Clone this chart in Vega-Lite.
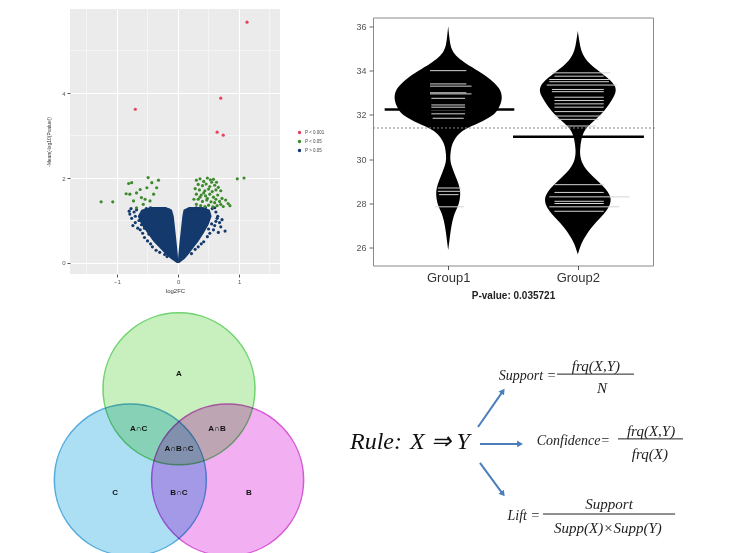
{
  "$schema": "https://vega.github.io/schema/vega-lite/v6.json",
  "background": "white",
  "padding": {"left": 46, "top": 8, "right": 0, "bottom": 0},
  "config": {"font": "Liberation Sans", "view": {"stroke": null}},
  "columns": 2,
  "bounds": "flush",
  "center": true,
  "spacing": {"row": 27, "column": 93},
  "datasets": {
    "minorx": [{"x": -1.5}, {"x": -0.5}, {"x": 0.5}, {"x": 1.5}],
    "minory": [{"y": 1}, {"y": 3}, {"y": 5}],
    "core": [
      {"arm": "L", "y": 0.0, "xo": -0.02, "xi": 0.0},
      {"arm": "L", "y": 0.1, "xo": -0.12, "xi": 0.0},
      {"arm": "L", "y": 0.2, "xo": -0.2, "xi": -0.005},
      {"arm": "L", "y": 0.35, "xo": -0.3, "xi": -0.015},
      {"arm": "L", "y": 0.5, "xo": -0.4, "xi": -0.025},
      {"arm": "L", "y": 0.7, "xo": -0.5, "xi": -0.04},
      {"arm": "L", "y": 0.9, "xo": -0.6, "xi": -0.055},
      {"arm": "L", "y": 1.1, "xo": -0.66, "xi": -0.07},
      {"arm": "L", "y": 1.25, "xo": -0.6, "xi": -0.1},
      {"arm": "L", "y": 1.32, "xo": -0.45, "xi": -0.2},
      {"arm": "R", "y": 0.0, "xo": 0.02, "xi": 0.0},
      {"arm": "R", "y": 0.1, "xo": 0.11, "xi": 0.0},
      {"arm": "R", "y": 0.2, "xo": 0.17, "xi": 0.005},
      {"arm": "R", "y": 0.35, "xo": 0.25, "xi": 0.015},
      {"arm": "R", "y": 0.5, "xo": 0.33, "xi": 0.025},
      {"arm": "R", "y": 0.7, "xo": 0.42, "xi": 0.04},
      {"arm": "R", "y": 0.9, "xo": 0.5, "xi": 0.055},
      {"arm": "R", "y": 1.1, "xo": 0.55, "xi": 0.07},
      {"arm": "R", "y": 1.25, "xo": 0.52, "xi": 0.09},
      {"arm": "R", "y": 1.32, "xo": 0.4, "xi": 0.18}
    ],
    "volc": [
      {"x": -0.79, "y": 1.15, "s": "P > 0.05"}, {"x": -0.76, "y": 1.05, "s": "P > 0.05"}, {"x": -0.72, "y": 1.2, "s": "P > 0.05"},
      {"x": -0.7, "y": 0.95, "s": "P > 0.05"}, {"x": -0.68, "y": 1.25, "s": "P > 0.05"}, {"x": -0.74, "y": 0.88, "s": "P > 0.05"},
      {"x": -0.62, "y": 0.78, "s": "P > 0.05"}, {"x": -0.58, "y": 0.7, "s": "P > 0.05"}, {"x": -0.66, "y": 0.82, "s": "P > 0.05"},
      {"x": -0.55, "y": 0.6, "s": "P > 0.05"}, {"x": -0.5, "y": 0.52, "s": "P > 0.05"}, {"x": -0.45, "y": 0.45, "s": "P > 0.05"},
      {"x": -0.42, "y": 0.38, "s": "P > 0.05"}, {"x": -0.36, "y": 0.3, "s": "P > 0.05"}, {"x": -0.3, "y": 0.25, "s": "P > 0.05"},
      {"x": -0.52, "y": 1.28, "s": "P > 0.05"}, {"x": -0.45, "y": 1.3, "s": "P > 0.05"}, {"x": -0.38, "y": 1.27, "s": "P > 0.05"},
      {"x": -0.3, "y": 1.25, "s": "P > 0.05"}, {"x": -0.25, "y": 1.28, "s": "P > 0.05"}, {"x": -0.2, "y": 1.2, "s": "P > 0.05"},
      {"x": -0.15, "y": 1.25, "s": "P > 0.05"}, {"x": -0.58, "y": 1.1, "s": "P > 0.05"}, {"x": -0.64, "y": 1.0, "s": "P > 0.05"},
      {"x": -0.7, "y": 1.1, "s": "P > 0.05"}, {"x": -0.6, "y": 0.9, "s": "P > 0.05"}, {"x": -0.55, "y": 0.82, "s": "P > 0.05"},
      {"x": -0.48, "y": 0.68, "s": "P > 0.05"}, {"x": -0.4, "y": 0.58, "s": "P > 0.05"}, {"x": -0.33, "y": 0.48, "s": "P > 0.05"},
      {"x": -0.22, "y": 0.2, "s": "P > 0.05"}, {"x": -0.18, "y": 0.15, "s": "P > 0.05"}, {"x": -0.8, "y": 1.22, "s": "P > 0.05"},
      {"x": -0.77, "y": 1.28, "s": "P > 0.05"},
      {"x": 0.72, "y": 1.02, "s": "P > 0.05"}, {"x": 0.68, "y": 0.95, "s": "P > 0.05"}, {"x": 0.65, "y": 1.1, "s": "P > 0.05"},
      {"x": 0.62, "y": 1.2, "s": "P > 0.05"}, {"x": 0.6, "y": 0.88, "s": "P > 0.05"}, {"x": 0.58, "y": 0.78, "s": "P > 0.05"},
      {"x": 0.56, "y": 1.28, "s": "P > 0.05"}, {"x": 0.52, "y": 0.7, "s": "P > 0.05"}, {"x": 0.48, "y": 0.62, "s": "P > 0.05"},
      {"x": 0.45, "y": 1.3, "s": "P > 0.05"}, {"x": 0.4, "y": 1.28, "s": "P > 0.05"}, {"x": 0.35, "y": 1.27, "s": "P > 0.05"},
      {"x": 0.3, "y": 1.3, "s": "P > 0.05"}, {"x": 0.25, "y": 1.24, "s": "P > 0.05"}, {"x": 0.2, "y": 1.28, "s": "P > 0.05"},
      {"x": 0.15, "y": 1.2, "s": "P > 0.05"}, {"x": 0.42, "y": 0.5, "s": "P > 0.05"}, {"x": 0.38, "y": 0.45, "s": "P > 0.05"},
      {"x": 0.33, "y": 0.38, "s": "P > 0.05"}, {"x": 0.28, "y": 0.32, "s": "P > 0.05"}, {"x": 0.22, "y": 0.22, "s": "P > 0.05"},
      {"x": 0.62, "y": 0.98, "s": "P > 0.05"}, {"x": 0.55, "y": 0.92, "s": "P > 0.05"}, {"x": 0.5, "y": 0.8, "s": "P > 0.05"},
      {"x": 0.66, "y": 0.72, "s": "P > 0.05"}, {"x": 0.7, "y": 0.85, "s": "P > 0.05"}, {"x": 0.64, "y": 1.05, "s": "P > 0.05"},
      {"x": 0.77, "y": 0.75, "s": "P > 0.05"}, {"x": 0.6, "y": 1.3, "s": "P > 0.05"},
      {"x": -0.81, "y": 1.87, "s": "P < 0.05"}, {"x": -0.76, "y": 1.89, "s": "P < 0.05"}, {"x": -0.85, "y": 1.63, "s": "P < 0.05"},
      {"x": -0.79, "y": 1.62, "s": "P < 0.05"}, {"x": -0.68, "y": 1.65, "s": "P < 0.05"}, {"x": -0.62, "y": 1.73, "s": "P < 0.05"},
      {"x": -0.6, "y": 1.54, "s": "P < 0.05"}, {"x": -0.54, "y": 1.5, "s": "P < 0.05"}, {"x": -0.49, "y": 2.01, "s": "P < 0.05"},
      {"x": -0.43, "y": 1.89, "s": "P < 0.05"}, {"x": -0.32, "y": 1.95, "s": "P < 0.05"}, {"x": -0.51, "y": 1.77, "s": "P < 0.05"},
      {"x": -0.73, "y": 1.46, "s": "P < 0.05"}, {"x": -0.57, "y": 1.38, "s": "P < 0.05"}, {"x": -0.68, "y": 1.3, "s": "P < 0.05"},
      {"x": -0.4, "y": 1.62, "s": "P < 0.05"}, {"x": -0.46, "y": 1.46, "s": "P < 0.05"}, {"x": -0.35, "y": 1.77, "s": "P < 0.05"},
      {"x": -1.26, "y": 1.44, "s": "P < 0.05"}, {"x": -1.07, "y": 1.44, "s": "P < 0.05"},
      {"x": 0.3, "y": 1.95, "s": "P < 0.05"}, {"x": 0.36, "y": 1.98, "s": "P < 0.05"}, {"x": 0.42, "y": 1.92, "s": "P < 0.05"},
      {"x": 0.48, "y": 2.0, "s": "P < 0.05"}, {"x": 0.53, "y": 1.96, "s": "P < 0.05"}, {"x": 0.58, "y": 1.97, "s": "P < 0.05"},
      {"x": 0.63, "y": 1.9, "s": "P < 0.05"}, {"x": 0.33, "y": 1.85, "s": "P < 0.05"}, {"x": 0.4, "y": 1.82, "s": "P < 0.05"},
      {"x": 0.46, "y": 1.86, "s": "P < 0.05"}, {"x": 0.52, "y": 1.8, "s": "P < 0.05"}, {"x": 0.6, "y": 1.83, "s": "P < 0.05"},
      {"x": 0.66, "y": 1.78, "s": "P < 0.05"}, {"x": 0.28, "y": 1.75, "s": "P < 0.05"}, {"x": 0.35, "y": 1.72, "s": "P < 0.05"},
      {"x": 0.44, "y": 1.7, "s": "P < 0.05"}, {"x": 0.5, "y": 1.74, "s": "P < 0.05"}, {"x": 0.56, "y": 1.68, "s": "P < 0.05"},
      {"x": 0.62, "y": 1.72, "s": "P < 0.05"}, {"x": 0.7, "y": 1.7, "s": "P < 0.05"}, {"x": 0.3, "y": 1.62, "s": "P < 0.05"},
      {"x": 0.38, "y": 1.6, "s": "P < 0.05"}, {"x": 0.45, "y": 1.58, "s": "P < 0.05"}, {"x": 0.52, "y": 1.62, "s": "P < 0.05"},
      {"x": 0.58, "y": 1.55, "s": "P < 0.05"}, {"x": 0.65, "y": 1.6, "s": "P < 0.05"}, {"x": 0.72, "y": 1.52, "s": "P < 0.05"},
      {"x": 0.26, "y": 1.5, "s": "P < 0.05"}, {"x": 0.33, "y": 1.5, "s": "P < 0.05"}, {"x": 0.4, "y": 1.45, "s": "P < 0.05"},
      {"x": 0.47, "y": 1.48, "s": "P < 0.05"}, {"x": 0.54, "y": 1.44, "s": "P < 0.05"}, {"x": 0.6, "y": 1.42, "s": "P < 0.05"},
      {"x": 0.68, "y": 1.45, "s": "P < 0.05"}, {"x": 0.78, "y": 1.48, "s": "P < 0.05"}, {"x": 0.82, "y": 1.4, "s": "P < 0.05"},
      {"x": 0.3, "y": 1.38, "s": "P < 0.05"}, {"x": 0.37, "y": 1.35, "s": "P < 0.05"}, {"x": 0.44, "y": 1.33, "s": "P < 0.05"},
      {"x": 0.5, "y": 1.36, "s": "P < 0.05"}, {"x": 0.57, "y": 1.32, "s": "P < 0.05"}, {"x": 0.64, "y": 1.35, "s": "P < 0.05"},
      {"x": 0.74, "y": 1.33, "s": "P < 0.05"}, {"x": 0.42, "y": 1.65, "s": "P < 0.05"}, {"x": 0.55, "y": 1.9, "s": "P < 0.05"},
      {"x": 0.48, "y": 1.52, "s": "P < 0.05"}, {"x": 0.36, "y": 1.55, "s": "P < 0.05"}, {"x": 0.62, "y": 1.5, "s": "P < 0.05"},
      {"x": 0.7, "y": 1.38, "s": "P < 0.05"}, {"x": 0.85, "y": 1.35, "s": "P < 0.05"},
      {"x": 0.97, "y": 1.98, "s": "P < 0.05"}, {"x": 1.08, "y": 2.0, "s": "P < 0.05"},
      {"x": 1.13, "y": 5.67, "s": "P < 0.001"}, {"x": -0.7, "y": 3.62, "s": "P < 0.001"}, {"x": 0.7, "y": 3.88, "s": "P < 0.001"},
      {"x": 0.64, "y": 3.08, "s": "P < 0.001"}, {"x": 0.74, "y": 3.01, "s": "P < 0.001"}
    ],
    "bean": [
      {"g": "G1", "y": 36.0, "lo": 1.0, "hi": 1.0}, {"g": "G1", "y": 35.6, "lo": 0.993, "hi": 1.007},
      {"g": "G1", "y": 35.2, "lo": 0.985, "hi": 1.015}, {"g": "G1", "y": 34.9, "lo": 0.97, "hi": 1.03},
      {"g": "G1", "y": 34.6, "lo": 0.93, "hi": 1.07}, {"g": "G1", "y": 34.3, "lo": 0.86, "hi": 1.14},
      {"g": "G1", "y": 34.0, "lo": 0.77, "hi": 1.23}, {"g": "G1", "y": 33.6, "lo": 0.67, "hi": 1.33},
      {"g": "G1", "y": 33.2, "lo": 0.6, "hi": 1.4}, {"g": "G1", "y": 32.8, "lo": 0.58, "hi": 1.42},
      {"g": "G1", "y": 32.4, "lo": 0.6, "hi": 1.4}, {"g": "G1", "y": 32.0, "lo": 0.64, "hi": 1.36},
      {"g": "G1", "y": 31.7, "lo": 0.74, "hi": 1.26}, {"g": "G1", "y": 31.45, "lo": 0.84, "hi": 1.16},
      {"g": "G1", "y": 31.2, "lo": 0.91, "hi": 1.09}, {"g": "G1", "y": 31.0, "lo": 0.94, "hi": 1.06},
      {"g": "G1", "y": 30.7, "lo": 0.97, "hi": 1.03}, {"g": "G1", "y": 30.4, "lo": 0.98, "hi": 1.02},
      {"g": "G1", "y": 30.0, "lo": 0.987, "hi": 1.013}, {"g": "G1", "y": 29.7, "lo": 0.975, "hi": 1.025},
      {"g": "G1", "y": 29.4, "lo": 0.955, "hi": 1.045}, {"g": "G1", "y": 29.05, "lo": 0.93, "hi": 1.07},
      {"g": "G1", "y": 28.7, "lo": 0.91, "hi": 1.09}, {"g": "G1", "y": 28.4, "lo": 0.905, "hi": 1.095},
      {"g": "G1", "y": 28.0, "lo": 0.915, "hi": 1.085}, {"g": "G1", "y": 27.7, "lo": 0.94, "hi": 1.06},
      {"g": "G1", "y": 27.4, "lo": 0.96, "hi": 1.04}, {"g": "G1", "y": 27.0, "lo": 0.975, "hi": 1.025},
      {"g": "G1", "y": 26.6, "lo": 0.985, "hi": 1.015}, {"g": "G1", "y": 26.2, "lo": 0.993, "hi": 1.007},
      {"g": "G1", "y": 25.9, "lo": 1.0, "hi": 1.0},
      {"g": "G2", "y": 35.8, "lo": 2.0, "hi": 2.0}, {"g": "G2", "y": 35.3, "lo": 1.988, "hi": 2.012},
      {"g": "G2", "y": 34.9, "lo": 1.975, "hi": 2.025}, {"g": "G2", "y": 34.6, "lo": 1.95, "hi": 2.05},
      {"g": "G2", "y": 34.3, "lo": 1.91, "hi": 2.09}, {"g": "G2", "y": 33.85, "lo": 1.81, "hi": 2.19},
      {"g": "G2", "y": 33.3, "lo": 1.69, "hi": 2.31}, {"g": "G2", "y": 32.8, "lo": 1.72, "hi": 2.28},
      {"g": "G2", "y": 32.2, "lo": 1.79, "hi": 2.21}, {"g": "G2", "y": 31.7, "lo": 1.88, "hi": 2.12},
      {"g": "G2", "y": 31.35, "lo": 1.95, "hi": 2.05}, {"g": "G2", "y": 30.9, "lo": 1.974, "hi": 2.026},
      {"g": "G2", "y": 30.4, "lo": 1.985, "hi": 2.015}, {"g": "G2", "y": 30.0, "lo": 1.98, "hi": 2.02},
      {"g": "G2", "y": 29.55, "lo": 1.943, "hi": 2.057}, {"g": "G2", "y": 29.1, "lo": 1.86, "hi": 2.14},
      {"g": "G2", "y": 28.5, "lo": 1.755, "hi": 2.245}, {"g": "G2", "y": 28.1, "lo": 1.74, "hi": 2.26},
      {"g": "G2", "y": 27.7, "lo": 1.77, "hi": 2.23}, {"g": "G2", "y": 27.1, "lo": 1.87, "hi": 2.13},
      {"g": "G2", "y": 26.6, "lo": 1.935, "hi": 2.065}, {"g": "G2", "y": 26.2, "lo": 1.974, "hi": 2.026},
      {"g": "G2", "y": 25.7, "lo": 2.0, "hi": 2.0}
    ],
    "blines": [
      {"y": 34.0, "lo": 0.86, "hi": 1.14}, {"y": 33.4, "lo": 0.86, "hi": 1.14}, {"y": 33.3, "lo": 0.86, "hi": 1.18},
      {"y": 33.0, "lo": 0.86, "hi": 1.14}, {"y": 32.95, "lo": 0.86, "hi": 1.18}, {"y": 32.75, "lo": 0.87, "hi": 1.13},
      {"y": 32.45, "lo": 0.87, "hi": 1.13}, {"y": 32.35, "lo": 0.87, "hi": 1.13}, {"y": 32.2, "lo": 0.87, "hi": 1.13},
      {"y": 32.05, "lo": 0.87, "hi": 1.13}, {"y": 31.85, "lo": 0.88, "hi": 1.12}, {"y": 28.7, "lo": 0.92, "hi": 1.1},
      {"y": 28.55, "lo": 0.92, "hi": 1.1}, {"y": 28.4, "lo": 0.93, "hi": 1.08}, {"y": 27.85, "lo": 0.9, "hi": 1.12},
      {"y": 33.9, "lo": 1.8, "hi": 2.25}, {"y": 33.75, "lo": 1.82, "hi": 2.2}, {"y": 33.6, "lo": 1.78, "hi": 2.24},
      {"y": 33.5, "lo": 1.78, "hi": 2.24}, {"y": 33.35, "lo": 1.76, "hi": 2.3}, {"y": 33.15, "lo": 1.8, "hi": 2.2},
      {"y": 33.05, "lo": 1.8, "hi": 2.2}, {"y": 32.8, "lo": 1.82, "hi": 2.2}, {"y": 32.65, "lo": 1.82, "hi": 2.2},
      {"y": 32.5, "lo": 1.82, "hi": 2.2}, {"y": 32.35, "lo": 1.82, "hi": 2.2}, {"y": 32.15, "lo": 1.82, "hi": 2.2},
      {"y": 31.95, "lo": 1.82, "hi": 2.18}, {"y": 31.8, "lo": 1.84, "hi": 2.16}, {"y": 31.5, "lo": 1.86, "hi": 2.14},
      {"y": 28.85, "lo": 1.82, "hi": 2.2}, {"y": 28.5, "lo": 1.82, "hi": 2.2}, {"y": 28.3, "lo": 1.78, "hi": 2.4},
      {"y": 28.1, "lo": 1.82, "hi": 2.2}, {"y": 28.0, "lo": 1.82, "hi": 2.2}, {"y": 27.85, "lo": 1.78, "hi": 2.32},
      {"y": 27.65, "lo": 1.82, "hi": 2.2}
    ],
    "gmeans": [{"y": 32.25, "lo": 0.51, "hi": 1.51}, {"y": 31.02, "lo": 1.5, "hi": 2.51}],
    "allmean": [{"y": 31.41, "lo": 0.42, "hi": 2.6}],
    "circles": [{"n": "A", "x": 0, "y": 1.2}, {"n": "C", "x": -0.64, "y": 0}, {"n": "B", "x": 0.64, "y": 0}],
    "vlabels": [
      {"t": "A", "x": 0, "y": 1.39}, {"t": "A∩C", "x": -0.53, "y": 0.67}, {"t": "A∩B", "x": 0.5, "y": 0.67},
      {"t": "A∩B∩C", "x": 0, "y": 0.41}, {"t": "C", "x": -0.84, "y": -0.17}, {"t": "B∩C", "x": 0, "y": -0.17},
      {"t": "B", "x": 0.92, "y": -0.17}
    ],
    "arrows": [
      {"x": 37.5, "y": 49.8, "x2": 46.4, "y2": 35.6},
      {"x": 38.2, "y": 56.5, "x2": 52.5, "y2": 56.5},
      {"x": 38.2, "y": 64.0, "x2": 46.4, "y2": 76.3}
    ],
    "labs": [
      {"t": "Support =", "x": 65.4, "y": 29.6},
      {"t": "Confidence=", "x": 84.6, "y": 55.3},
      {"t": "Lift =", "x": 59.6, "y": 85.0}
    ],
    "fracs": [
      {"t": "frq(X,Y)", "x": 79.6, "y": 25.7}, {"t": "N", "x": 81.8, "y": 34.4},
      {"t": "frq(X,Y)", "x": 99.3, "y": 51.4}, {"t": "frq(X)", "x": 98.9, "y": 60.5},
      {"t": "Support", "x": 84.3, "y": 80.2}, {"t": "Supp(X)×Supp(Y)", "x": 83.9, "y": 89.7}
    ],
    "bars": [
      {"x": 65.7, "x2": 93.2, "y": 28.9},
      {"x": 87.5, "x2": 110.7, "y": 54.5},
      {"x": 60.7, "x2": 107.9, "y": 84.2}
    ],
    "big": [{"t": "Rule:", "x": -8.2, "y": 58.5}, {"t": "X ⇒ Y", "x": 13.2, "y": 58.5}]
  },
  "concat": [
    {
      "width": 210, "height": 265,
      "view": {"fill": "#ebebeb", "stroke": null},
      "layer": [
        {
          "data": {"name": "minorx"},
          "mark": {"type": "rule", "color": "white", "strokeWidth": 0.5},
          "encoding": {"x": {"field": "x", "type": "quantitative", "scale": {"domain": [-1.77, 1.67], "nice": false, "zero": false}}}
        },
        {
          "data": {"name": "minory"},
          "mark": {"type": "rule", "color": "white", "strokeWidth": 0.5},
          "encoding": {"y": {"field": "y", "type": "quantitative", "scale": {"domain": [-0.26, 5.98], "nice": false, "zero": false}}}
        },
        {
          "data": {"name": "core"},
          "mark": {"type": "area", "orient": "horizontal", "color": "#14396d", "interpolate": "linear"},
          "encoding": {
            "y": {"field": "y", "type": "quantitative", "scale": {"domain": [-0.26, 5.98], "nice": false, "zero": false}},
            "x": {"field": "xo", "type": "quantitative", "scale": {"domain": [-1.77, 1.67], "nice": false, "zero": false}},
            "x2": {"field": "xi"},
            "detail": {"field": "arm"}
          }
        },
        {
          "data": {"name": "volc"},
          "mark": {"type": "point", "filled": true, "size": 10, "opacity": 1},
          "encoding": {
            "x": {"field": "x", "type": "quantitative", "scale": {"domain": [-1.77, 1.67], "nice": false, "zero": false},
              "axis": {"values": [-1, 0, 1], "format": "d", "title": "log2FC", "labelFontSize": 6, "titleFontSize": 6, "titleFontWeight": "normal",
                "tickSize": 3, "tickColor": "#555", "labelColor": "#555", "titleColor": "#333", "domain": false,
                "gridColor": "white", "gridWidth": 1, "labelPadding": 1, "titlePadding": 3}},
            "y": {"field": "y", "type": "quantitative", "scale": {"domain": [-0.26, 5.98], "nice": false, "zero": false},
              "axis": {"values": [0, 2, 4], "format": "d", "title": "-Mean(-log10(Pvalue))", "labelFontSize": 6, "titleFontSize": 5, "titleFontWeight": "normal",
                "tickSize": 3, "tickColor": "#555", "labelColor": "#555", "titleColor": "#333", "domain": false,
                "gridColor": "white", "gridWidth": 1, "labelPadding": 2, "titlePadding": 10}},
            "color": {"field": "s", "type": "nominal",
              "scale": {"domain": ["P < 0.001", "P < 0.05", "P > 0.05"], "range": ["#e8425f", "#3c8a2c", "#14396d"]},
              "legend": {"orient": "none", "legendX": 227, "legendY": 121, "title": null, "labelFontSize": 4.5, "symbolSize": 12,
                "rowPadding": 3, "labelColor": "#444", "symbolType": "circle", "labelOffset": 3}}
          }
        }
      ]
    },
    {
      "width": 280, "height": 248,
      "view": {"stroke": "#8a8a8a", "strokeWidth": 1},
      "layer": [
        {
          "data": {"name": "bean"},
          "mark": {"type": "area", "orient": "horizontal", "color": "black", "interpolate": "basis", "opacity": 1},
          "encoding": {
            "y": {"field": "y", "type": "quantitative", "scale": {"domain": [25.2, 36.4], "nice": false, "zero": false},
              "axis": {"values": [26, 28, 30, 32, 34, 36], "title": null, "labelFontSize": 9, "labelColor": "#555",
                "tickSize": 4, "tickColor": "#666", "domain": false, "grid": false, "labelPadding": 3}},
            "x": {"field": "lo", "type": "quantitative", "scale": {"domain": [0.42, 2.58], "nice": false, "zero": false},
              "axis": {"values": [1, 2], "labelExpr": "datum.value == 1 ? 'Group1' : 'Group2'", "title": "P-value: 0.035721",
                "titleFontWeight": "bold", "titleFontSize": 10, "titleColor": "#222", "labelFontSize": 13, "labelColor": "#333",
                "tickSize": 4, "tickColor": "#555", "domain": false, "grid": false, "labelPadding": 2, "titlePadding": 6}},
            "x2": {"field": "hi"},
            "detail": {"field": "g"}
          }
        },
        {
          "data": {"name": "blines"},
          "mark": {"type": "rule", "color": "#d4d4d4", "strokeWidth": 1},
          "encoding": {
            "y": {"field": "y", "type": "quantitative"},
            "x": {"field": "lo", "type": "quantitative"},
            "x2": {"field": "hi"}
          }
        },
        {
          "data": {"name": "allmean"},
          "mark": {"type": "rule", "color": "#888", "strokeWidth": 1, "strokeDash": [2, 2]},
          "encoding": {
            "y": {"field": "y", "type": "quantitative"},
            "x": {"field": "lo", "type": "quantitative"},
            "x2": {"field": "hi"}
          }
        },
        {
          "data": {"name": "gmeans"},
          "mark": {"type": "rule", "color": "black", "strokeWidth": 2.5},
          "encoding": {
            "y": {"field": "y", "type": "quantitative"},
            "x": {"field": "lo", "type": "quantitative"},
            "x2": {"field": "hi"}
          }
        }
      ]
    },
    {
      "width": 210, "height": 253,
      "view": {"stroke": null},
      "layer": [
        {
          "data": {"name": "circles"},
          "mark": {"type": "point", "shape": "circle", "filled": true, "size": 23104, "opacity": 1, "strokeWidth": 1.5, "blend": "multiply"},
          "encoding": {
            "x": {"field": "x", "type": "quantitative", "scale": {"domain": [-1.434, 1.329], "nice": false, "zero": false}, "axis": null},
            "y": {"field": "y", "type": "quantitative", "scale": {"domain": [-0.974, 2.355], "nice": false, "zero": false}, "axis": null},
            "fill": {"field": "n", "type": "nominal", "scale": {"domain": ["A", "B", "C"], "range": ["#c8f0be", "#f2b0f2", "#acdef4"]}, "legend": null},
            "stroke": {"field": "n", "type": "nominal", "scale": {"domain": ["A", "B", "C"], "range": ["#6fd36f", "#d65ad6", "#55acdc"]}, "legend": null}
          }
        },
        {
          "data": {"name": "vlabels"},
          "mark": {"type": "text", "fontSize": 8, "fontWeight": "bold", "color": "#111"},
          "encoding": {
            "x": {"field": "x", "type": "quantitative"},
            "y": {"field": "y", "type": "quantitative"},
            "text": {"field": "t"}
          }
        }
      ]
    },
    {
      "width": 280, "height": 253,
      "view": {"stroke": null},
      "layer": [
        {
          "data": {"name": "arrows"},
          "mark": {"type": "rule", "color": "#4a7ebb", "strokeWidth": 2},
          "encoding": {
            "x": {"field": "x", "type": "quantitative", "scale": {"domain": [0, 100], "nice": false, "zero": false}, "axis": null},
            "y": {"field": "y", "type": "quantitative", "scale": {"domain": [0, 100], "nice": false, "zero": false, "reverse": true}, "axis": null},
            "x2": {"field": "x2"},
            "y2": {"field": "y2"}
          }
        },
        {
          "data": {"values": [{"x": 46.4, "y": 35.6}]},
          "mark": {"type": "point", "shape": "triangle-up", "filled": true, "size": 45, "color": "#4a7ebb", "opacity": 1, "angle": 35},
          "encoding": {"x": {"field": "x", "type": "quantitative"}, "y": {"field": "y", "type": "quantitative"}}
        },
        {
          "data": {"values": [{"x": 52.5, "y": 56.5}]},
          "mark": {"type": "point", "shape": "triangle-up", "filled": true, "size": 45, "color": "#4a7ebb", "opacity": 1, "angle": 90},
          "encoding": {"x": {"field": "x", "type": "quantitative"}, "y": {"field": "y", "type": "quantitative"}}
        },
        {
          "data": {"values": [{"x": 46.4, "y": 76.3}]},
          "mark": {"type": "point", "shape": "triangle-up", "filled": true, "size": 45, "color": "#4a7ebb", "opacity": 1, "angle": 143},
          "encoding": {"x": {"field": "x", "type": "quantitative"}, "y": {"field": "y", "type": "quantitative"}}
        },
        {
          "data": {"name": "labs"},
          "mark": {"type": "text", "align": "right", "baseline": "middle", "font": "Liberation Serif", "fontStyle": "italic", "fontSize": 14, "color": "#222"},
          "encoding": {"x": {"field": "x", "type": "quantitative"}, "y": {"field": "y", "type": "quantitative"}, "text": {"field": "t"}}
        },
        {
          "data": {"name": "fracs"},
          "mark": {"type": "text", "align": "center", "baseline": "middle", "font": "Liberation Serif", "fontStyle": "italic", "fontSize": 15, "color": "#222"},
          "encoding": {"x": {"field": "x", "type": "quantitative"}, "y": {"field": "y", "type": "quantitative"}, "text": {"field": "t"}}
        },
        {
          "data": {"name": "bars"},
          "mark": {"type": "rule", "color": "#222", "strokeWidth": 1},
          "encoding": {"x": {"field": "x", "type": "quantitative"}, "x2": {"field": "x2"}, "y": {"field": "y", "type": "quantitative"}}
        },
        {
          "data": {"name": "big"},
          "mark": {"type": "text", "align": "left", "baseline": "alphabetic", "font": "Liberation Serif", "fontStyle": "italic", "fontSize": 24, "color": "#111"},
          "encoding": {"x": {"field": "x", "type": "quantitative"}, "y": {"field": "y", "type": "quantitative"}, "text": {"field": "t"}}
        }
      ]
    }
  ]
}
